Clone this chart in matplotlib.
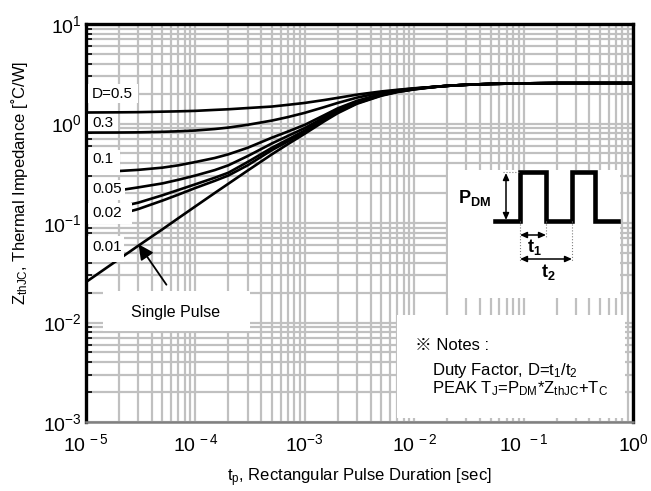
import numpy as np
import matplotlib
matplotlib.use("Agg")
import matplotlib.pyplot as plt
from matplotlib.ticker import LogLocator, FixedLocator, NullFormatter
from matplotlib.patches import Rectangle

plt.rcParams['font.family'] = ['Liberation Sans', 'Noto Sans CJK JP', 'DejaVu Sans']
plt.rcParams['mathtext.fontset'] = 'custom'
plt.rcParams['mathtext.rm'] = 'Liberation Sans'
plt.rcParams['mathtext.it'] = 'Liberation Sans:italic'
plt.rcParams['mathtext.bf'] = 'Liberation Sans:bold'

# pulse duration [s]
t_p = [1e-5, 2e-5, 3e-5, 5e-5, 7e-5, 1e-4, 1.5e-4, 2e-4, 3e-4, 5e-4, 7e-4,
       1e-3, 1.5e-3, 2e-3, 3e-3, 5e-3, 7e-3, 1e-2, 1.5e-2, 2e-2, 3e-2, 5e-2, 1e-1, 2e-1, 1.0]

# Zth [C/W]
z_tail = [2.33, 2.39, 2.45, 2.50, 2.53, 2.55, 2.55]
z_d05 = [1.29, 1.295, 1.30, 1.315, 1.325, 1.34, 1.37, 1.39, 1.43, 1.48, 1.54,
         1.61, 1.72, 1.81, 1.95, 2.10, 2.18, 2.26] + z_tail
z_d03 = [0.81, 0.812, 0.815, 0.825, 0.835, 0.85, 0.88, 0.91, 0.97, 1.07, 1.16,
         1.28, 1.46, 1.61, 1.82, 2.05, 2.16, 2.25] + z_tail
z_d01 = [0.325, 0.333, 0.342, 0.36, 0.38, 0.41, 0.45, 0.49, 0.57, 0.72, 0.83,
         0.97, 1.21, 1.42, 1.69, 1.98, 2.12, 2.24] + z_tail
z_d005 = [0.19, 0.213, 0.228, 0.25, 0.272, 0.30, 0.34, 0.38, 0.47, 0.63, 0.75,
          0.90, 1.15, 1.37, 1.65, 1.95, 2.10, 2.23] + z_tail
z_d002 = [0.13, 0.145, 0.16, 0.19, 0.215, 0.245, 0.285, 0.32, 0.41, 0.57, 0.69,
          0.85, 1.11, 1.33, 1.62, 1.93, 2.09, 2.22] + z_tail
z_d001 = [0.105, 0.122, 0.138, 0.168, 0.193, 0.225, 0.265, 0.30, 0.38, 0.54, 0.66,
          0.82, 1.08, 1.30, 1.60, 1.92, 2.08, 2.21] + z_tail
z_single = [0.0255, 0.0433, 0.059, 0.0865, 0.112, 0.147, 0.20, 0.248, 0.336, 0.49, 0.62,
            0.79, 1.05, 1.27, 1.58, 1.90, 2.07, 2.20, 2.32, 2.39, 2.45, 2.50, 2.53, 2.55, 2.55]

curves = [z_d05, z_d03, z_d01, z_d005, z_d002, z_d001, z_single]
duty_labels = ["D=0.5", "0.3", "0.1", "0.05", "0.02", "0.01"]

W, H = 651, 491
fig = plt.figure(figsize=(W / 100, H / 100), dpi=100)
ax = fig.add_axes([86 / W, 1 - 422 / H, (633 - 86) / W, (422 - 24) / H])

for z in curves:
    ax.plot(t_p, z, color="black", lw=1.9, zorder=3, solid_capstyle="butt")

ax.set_xscale("log")
ax.set_yscale("log")
ax.set_xlim(1e-5, 1)
ax.set_ylim(1e-3, 10)

subs = np.arange(2, 10)
ax.xaxis.set_major_locator(FixedLocator([1e-5, 1e-4, 1e-3, 1e-2, 1e-1, 1]))
ax.xaxis.set_minor_locator(LogLocator(base=10, subs=subs, numticks=20))
ax.yaxis.set_major_locator(FixedLocator([1e-3, 1e-2, 1e-1, 1, 10]))
ax.yaxis.set_minor_locator(LogLocator(base=10, subs=subs, numticks=20))
ax.xaxis.set_minor_formatter(NullFormatter())
ax.yaxis.set_minor_formatter(NullFormatter())
ax.set_xticklabels([r"$\mathregular{10^{\,-5}}$", r"$\mathregular{10^{\,-4}}$", r"$\mathregular{10^{-3}}$",
                    r"$\mathregular{10^{\,-2}}$", r"$\mathregular{10^{\;\;-1}}$", r"$\mathregular{10^{0}}$"])
ax.set_yticklabels([r"$\mathregular{10^{-3}}$", r"$\mathregular{10^{-2}}$", r"$\mathregular{10^{-1}}$",
                    r"$\mathregular{10^{0}}$", r"$\mathregular{10^{1}}$"])

ax.grid(which="both", color="#c0c0c0", lw=1.6, zorder=0)
ax.set_axisbelow(True)
ax.tick_params(axis="x", which="both", length=0, labelsize=14, pad=8)
ax.tick_params(axis="y", which="major", length=0, labelsize=14, pad=3)
ax.tick_params(axis="y", which="minor", direction="in", length=4, width=1.2, color="black")

for side in ["left", "top", "right"]:
    ax.spines[side].set_linewidth(2.4)
    ax.spines[side].set_color("black")
ax.spines["bottom"].set_linewidth(1.8)
ax.spines["bottom"].set_color("#808080")

ax.set_xlabel(r"t$_\mathregular{p}$, Rectangular Pulse Duration [sec]", fontsize=12, labelpad=8)
ax.set_ylabel(r"Z$_\mathregular{thJC}$, Thermal Impedance [˚C/W]", fontsize=12, labelpad=4)
ax.yaxis.set_label_coords(-0.103, 0.6)

# overlay in pixel coordinates for boxes and the inset sketch
ov = fig.add_axes([0, 0, 1, 1], zorder=5)
ov.set_xlim(0, W)
ov.set_ylim(H, 0)
ov.axis("off")


def white_box(x0, y0, x1, y1):
    ov.add_patch(Rectangle((x0, y0), x1 - x0, y1 - y0, facecolor="white", edgecolor="none"))


label_boxes = [(88, 84, 138, 103), (88, 114, 118, 131), (88, 150, 120, 175),
               (88, 180, 125, 200), (88, 203, 132, 224), (88, 236, 124, 262)]
label_y = [93.5, 123, 159, 189, 213, 247]
for lab, box, yy in zip(duty_labels, label_boxes, label_y):
    white_box(*box)
    ov.text(92, yy, lab, fontsize=11, ha="left", va="center")

# single pulse
white_box(103, 291, 250, 331)
ov.text(176, 313, "Single Pulse", fontsize=11.5, ha="center", va="center")
ov.annotate("", xy=(137, 242), xytext=(168, 287),
            arrowprops=dict(arrowstyle="-|>,head_length=0.9,head_width=0.45", color="black", lw=1.3))

# pulse inset
white_box(448, 170, 620, 298)
px = [495, 520, 520, 546, 546, 572, 572, 595, 595, 618]
py = [221, 221, 172, 172, 221, 221, 172, 172, 221, 221]
ov.plot(px, py, color="black", lw=3.3, solid_joinstyle="miter")
ov.plot([503, 520], [172, 172], color="gray", lw=0.8, ls=":")
ov.plot([520, 520], [221, 262], color="gray", lw=0.8, ls=":")
ov.plot([546, 546], [221, 238], color="gray", lw=0.8, ls=":")
ov.plot([572, 572], [221, 262], color="gray", lw=0.8, ls=":")
arr = dict(arrowstyle="<|-|>,head_length=0.4,head_width=0.18", color="black", lw=1.1, shrinkA=0, shrinkB=0)
ov.annotate("", xy=(506, 173), xytext=(506, 220), arrowprops=arr)
ov.annotate("", xy=(520, 235), xytext=(546, 235), arrowprops=arr)
ov.annotate("", xy=(520, 259), xytext=(572, 259), arrowprops=arr)
ov.text(475, 198, r"$\mathbf{P_{DM}}$", fontsize=13, ha="center", va="center")
ov.text(534, 247, r"$\mathbf{t_1}$", fontsize=13, ha="center", va="center")
ov.text(548, 272, r"$\mathbf{t_2}$", fontsize=13, ha="center", va="center")

# notes
white_box(397, 315, 625, 418)
ov.text(415, 345, "※ Notes :", fontsize=12, ha="left", va="center")
ov.text(432, 370, r"Duty Factor, D=t$_\mathregular{1}$/t$_\mathregular{2}$", fontsize=12, ha="left", va="center")
ov.text(432, 389, r"PEAK T$_\mathregular{J}$=P$_\mathregular{DM}$*Z$_\mathregular{thJC}$+T$_\mathregular{C}$",
        fontsize=12, ha="left", va="center")

fig.savefig("out.png", dpi=100)
